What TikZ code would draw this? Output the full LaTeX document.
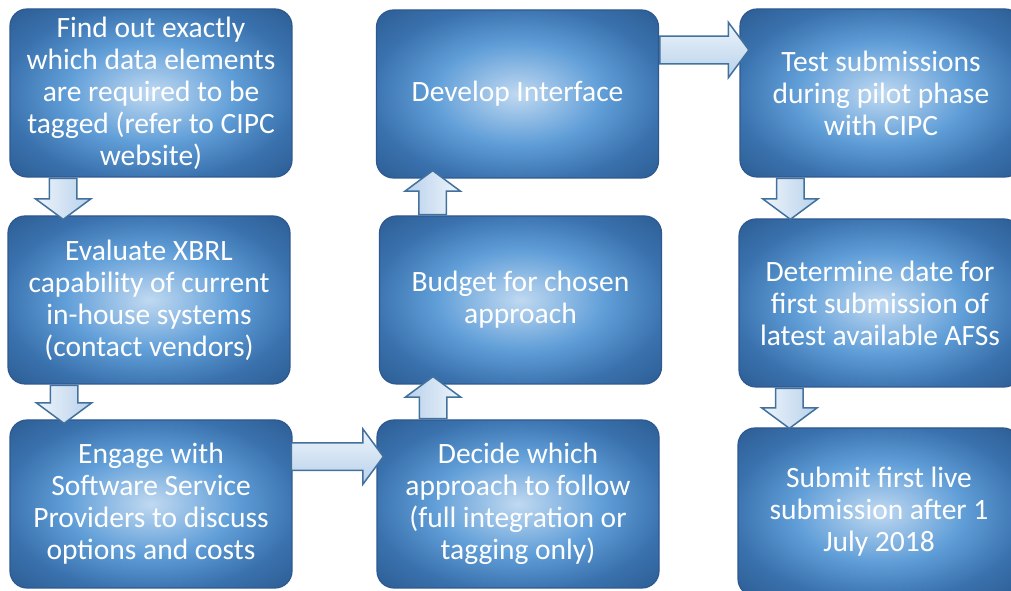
\documentclass[tikz,border=0pt]{standalone}
\usepackage{fontspec}
\setmainfont{Carlito}
\usepackage{tikz}
\usetikzlibrary{arrows,shapes,positioning,calc}
\usepackage{xcolor}
\definecolor{boxlight}{RGB}{192,217,241}
\definecolor{boxmid}{RGB}{96,158,216}
\definecolor{boxdark}{RGB}{58,114,174}
\definecolor{boxedge}{RGB}{44,92,146}
\definecolor{boxline}{RGB}{46,88,145}
\definecolor{arrowtop}{RGB}{238,244,251}
\definecolor{arrowbottom}{RGB}{183,209,235}
\definecolor{arrowline}{RGB}{65,113,156}
\pgfdeclareradialshading{boxglow}{\pgfpoint{0bp}{0bp}}{color(0bp)=(boxlight); color(15bp)=(boxmid); color(26bp)=(boxdark); color(36bp)=(boxedge); color(50bp)=(boxedge)}
\tikzstyle{stepbox} = [draw=boxline, line width=1.2pt, rounded corners=17pt, shading=boxglow,
  minimum width=282pt, minimum height=168pt, align=center, text=white,
  font=\fontsize{29.5}{32}\selectfont]
\tikzstyle{blockarrow} = [single arrow, draw=arrowline, line width=1.5pt, inner sep=13pt,
  single arrow head extend=14pt, single arrow tip angle=107, anchor=tail]
\tikzstyle{downarrow} = [blockarrow, rotate=-90, left color=arrowtop, right color=arrowbottom]
\tikzstyle{uparrow} = [blockarrow, rotate=90, right color=arrowtop, left color=arrowbottom]
\tikzstyle{rightarrow} = [blockarrow, top color=arrowtop, bottom color=arrowbottom]

\begin{document}
\begin{tikzpicture}[x=1pt,y=1pt]
\clip (0,0) rectangle (1011,591);

% Steps
\node[stepbox] (find) at (151,498) {Find out exactly\\which data elements\\are required to be\\tagged (refer to CIPC\\website)};
\node[stepbox] (evaluate) at (149,291) {Evaluate XBRL\\capability of current\\in-house systems\\(contact vendors)};
\node[stepbox] (engage) at (151,87) {Engage with\\Software Service\\Providers to discuss\\options and costs};
\node[stepbox] (develop) at (517.5,497) {Develop Interface};
\node[stepbox] (budget) at (520.5,291) {Budget for chosen\\approach};
\node[stepbox] (decide) at (518,87) {Decide which\\approach to follow\\(full integration or\\tagging only)};
\node[stepbox] (test) at (881,498) {Test submissions\\during pilot phase\\with CIPC};
\node[stepbox] (date) at (880,288) {Determine date for\\first submission of\\latest available AFSs};
\node[stepbox] (submit) at (879,79) {Submit first live\\submission after 1\\July 2018};

% Arrows
\node[downarrow, minimum height=41pt] (findevaluate) at ($(find.south west)!0.19!(find.south east)$) {};
\node[downarrow, minimum height=38pt] (evaluateengage) at ($(evaluate.south west)!0.2!(evaluate.south east)$) {};
\node[rightarrow, minimum height=92pt] (engagedecide) at ($(engage.north east)!0.22!(engage.south east)+(-2,0)$) {};
\node[uparrow, minimum height=42pt] (decidebudget) at ($(decide.north west)!0.2!(decide.north east)$) {};
\node[uparrow, minimum height=44pt] (budgetdevelop) at ($(budget.north west)!0.19!(budget.north east)$) {};
\node[rightarrow, minimum height=89pt] (developtest) at ($(develop.north east)!0.24!(develop.south east)$) {};
\node[downarrow, minimum height=41pt] (testdate) at ($(test.south west)!0.18!(test.south east)$) {};
\node[downarrow, minimum height=40pt] (datesubmit) at ($(date.south west)!0.18!(date.south east)$) {};
\end{tikzpicture}
\end{document}
